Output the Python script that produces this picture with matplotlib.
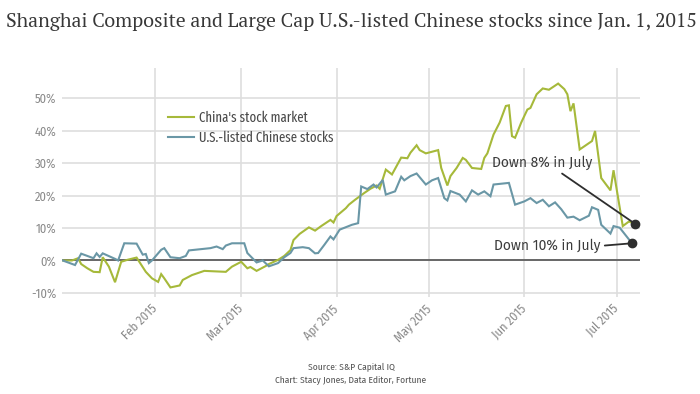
import matplotlib
matplotlib.use("Agg")
import matplotlib.pyplot as plt
import matplotlib.dates as mdates
import pandas as pd

# ---------------- data ----------------
china_dates = ["2015-01-02", "2015-01-05", "2015-01-07", "2015-01-08", "2015-01-10", "2015-01-12",
               "2015-01-14", "2015-01-15", "2015-01-17", "2015-01-19", "2015-01-21", "2015-01-23",
               "2015-01-26", "2015-01-29", "2015-01-31", "2015-02-02", "2015-02-03", "2015-02-04",
               "2015-02-06", "2015-02-09", "2015-02-10", "2015-02-13", "2015-02-17", "2015-02-24",
               "2015-02-26", "2015-03-01", "2015-03-03", "2015-03-04", "2015-03-06", "2015-03-09",
               "2015-03-10", "2015-03-13", "2015-03-15", "2015-03-17", "2015-03-18", "2015-03-20",
               "2015-03-23", "2015-03-25", "2015-03-27", "2015-03-30", "2015-03-31", "2015-04-01",
               "2015-04-04", "2015-04-05", "2015-04-07", "2015-04-10", "2015-04-12", "2015-04-14",
               "2015-04-15", "2015-04-17", "2015-04-19", "2015-04-22", "2015-04-24", "2015-04-25",
               "2015-04-27", "2015-04-28", "2015-04-30", "2015-05-04", "2015-05-05", "2015-05-07",
               "2015-05-08", "2015-05-10", "2015-05-12", "2015-05-13", "2015-05-15", "2015-05-18",
               "2015-05-19", "2015-05-20", "2015-05-22", "2015-05-24", "2015-05-26", "2015-05-27",
               "2015-05-28", "2015-05-29", "2015-05-31", "2015-06-02", "2015-06-03", "2015-06-05",
               "2015-06-07", "2015-06-09", "2015-06-12", "2015-06-14", "2015-06-15", "2015-06-16",
               "2015-06-17", "2015-06-19", "2015-06-23", "2015-06-24", "2015-06-26", "2015-06-29",
               "2015-06-30", "2015-07-03", "2015-07-05", "2015-07-07"]
china_vals = [0, 0, 0.7, -1.1, -2.4, -3.5,
              -3.6, 1.0, -1.9, -6.7, -0.4, 0.2,
              0.9, -3.5, -5.5, -6.6, -4.2, -5.5,
              -8.3, -7.7, -6.0, -4.5, -3.2, -3.5,
              -1.9, -0.4, -2.4, -2.0, -3.2, -1.7,
              -1.1, 0.2, 1.4, 3.2, 6.3, 8.2,
              10.2, 9.2, 10.6, 12.5, 11.7, 13.7,
              16.1, 17.2, 18.7, 20.8, 22.1, 23.1,
              22.1, 28.0, 26.5, 31.7, 31.5, 33.2,
              35.5, 34.0, 33.0, 34.0, 28.5, 23.1,
              26.0, 28.5, 31.6, 31.0, 28.5, 28.2,
              31.6, 33.0, 38.8, 42.5, 47.6, 47.8,
              38.3, 37.8, 42.5, 46.5, 47.0, 51.2,
              53.0, 52.6, 54.5, 52.8, 51.2, 46.0,
              48.4, 34.2, 36.8, 39.9, 25.4, 21.6,
              27.8, 10.6, 12.0, 11.3]

us_dates = ["2015-01-02", "2015-01-06", "2015-01-08", "2015-01-12", "2015-01-13", "2015-01-14",
            "2015-01-15", "2015-01-19", "2015-01-20", "2015-01-22", "2015-01-26", "2015-01-28",
            "2015-01-29", "2015-01-30", "2015-01-31", "2015-02-03", "2015-02-04", "2015-02-06",
            "2015-02-09", "2015-02-11", "2015-02-12", "2015-02-16", "2015-02-19", "2015-02-21",
            "2015-02-23", "2015-02-24", "2015-02-26", "2015-03-02", "2015-03-03", "2015-03-06",
            "2015-03-08", "2015-03-10", "2015-03-13", "2015-03-15", "2015-03-17", "2015-03-18",
            "2015-03-21", "2015-03-23", "2015-03-25", "2015-03-26", "2015-03-28", "2015-03-30",
            "2015-03-31", "2015-04-02", "2015-04-06", "2015-04-08", "2015-04-09", "2015-04-11",
            "2015-04-13", "2015-04-14", "2015-04-16", "2015-04-17", "2015-04-20", "2015-04-22",
            "2015-04-23", "2015-04-25", "2015-04-27", "2015-04-30", "2015-05-02", "2015-05-04",
            "2015-05-06", "2015-05-07", "2015-05-08", "2015-05-11", "2015-05-13", "2015-05-15",
            "2015-05-17", "2015-05-19", "2015-05-21", "2015-05-22", "2015-05-27", "2015-05-29",
            "2015-06-01", "2015-06-03", "2015-06-05", "2015-06-07", "2015-06-09", "2015-06-11",
            "2015-06-13", "2015-06-15", "2015-06-17", "2015-06-19", "2015-06-22", "2015-06-23",
            "2015-06-25", "2015-06-26", "2015-06-29", "2015-06-30", "2015-07-02", "2015-07-06"]
us_vals = [0, -1.4, 2.1, 0.7, 2.2, 1.1,
           2.2, 0.5, 0.0, 5.3, 5.2, 1.8,
           2.0, -0.8, 0, 3.3, 3.8, 1.0,
           0.7, 1.4, 3.1, 3.5, 3.8, 4.3,
           3.5, 4.6, 5.3, 5.3, 2.3, -0.6,
           0, -1.8, -0.8, 1.0, 2.3, 3.8,
           4.1, 3.8, 2.2, 2.3, 4.8, 7.4,
           6.5, 9.5, 11.0, 11.5, 22.8, 22.0,
           23.4, 22.5, 24.8, 20.3, 21.3, 25.8,
           24.7, 26.0, 26.8, 23.4, 24.7, 25.4,
           19.2, 18.5, 21.4, 20.3, 18.2, 21.6,
           20.3, 21.3, 19.8, 23.4, 23.9, 17.2,
           18.2, 19.2, 17.7, 18.7, 16.7, 17.9,
           15.8, 13.2, 13.5, 12.4, 13.8, 16.4,
           15.6, 11.0, 8.3, 10.6, 10.1, 5.3]

series_labels = ["China's stock market", "U.S.-listed Chinese stocks"]
y_ticks = [-10, 0, 10, 20, 30, 40, 50]
x_ticks = ["2015-02-01", "2015-03-01", "2015-04-01", "2015-05-01", "2015-06-01", "2015-07-01"]
title = "Shanghai Composite and Large Cap U.S.-listed Chinese stocks since Jan. 1, 2015"
note_china = "Down 8% in July"
note_us = "Down 10% in July"
footer = "Source: S&P Capital IQ\nChart: Stacy Jones, Data Editor, Fortune"

# ---------------- style ----------------
GREEN = "#a6b93a"
BLUE = "#6a97a6"
SANS_C = ["Fira Sans Condensed", "Roboto Condensed", "DejaVu Sans"]
SANS_XC = ["Fira Sans Extra Condensed", "Fira Sans Condensed", "DejaVu Sans"]
SANS = ["Fira Sans", "Open Sans", "DejaVu Sans"]
SERIF = ["PT Serif", "Noto Serif", "DejaVu Serif"]

plt.rcParams["font.family"] = SANS_C

W, H = 700, 394
fig = plt.figure(figsize=(W / 100, H / 100), dpi=100)
ax = fig.add_axes([61.8 / W, 1 - 297 / H, (640 - 61.8) / W, (297 - 68) / H])

cd = pd.to_datetime(china_dates)
ud = pd.to_datetime(us_dates)

ax.plot(cd, china_vals, color=GREEN, lw=1.5, label=series_labels[0], zorder=3, solid_joinstyle="miter")
ax.plot(ud, us_vals, color=BLUE, lw=1.5, label=series_labels[1], zorder=3, solid_joinstyle="miter")

x0 = mdates.date2num(pd.Timestamp("2015-01-01")) + 0.7
x1 = mdates.date2num(pd.Timestamp("2015-01-01")) + 188.6
ax.set_xlim(x0, x1)
ax.set_ylim(-11.25, 59.3)

ax.set_yticks(y_ticks)
ax.set_yticklabels([f"{t}%" for t in y_ticks])
xt = pd.to_datetime(x_ticks)
ax.set_xticks(xt)
ax.set_xticklabels([d.strftime("%b %Y") for d in xt], rotation=45, ha="right",
                   rotation_mode="anchor", va="center")

ax.tick_params(axis="both", length=0, labelsize=9, labelcolor="#8a8a8a")
ax.tick_params(axis="y", pad=4)
ax.tick_params(axis="x", pad=7)

ax.grid(True, color="#dedede", lw=1.2, zorder=0)
ax.set_axisbelow(True)
for s in ax.spines.values():
    s.set_visible(False)
ax.axhline(0, color="#5e5e5e", lw=1.3, zorder=2)

leg = ax.legend(loc="upper left", bbox_to_anchor=(168 / W, 1 - 111 / H),
                bbox_transform=fig.transFigure, frameon=False,
                prop={"family": SANS_XC, "size": 10},
                handlelength=1.9, handletextpad=0.35, labelspacing=0.4,
                borderpad=0, borderaxespad=0)
for t in leg.get_texts():
    t.set_color("#4a4a4a")

# end dots + annotations
ax.plot([cd[-1]], [china_vals[-1]], "o", color="#2e2e2e", ms=6, zorder=5)
ax.plot([ud[-1]], [us_vals[-1]], "o", color="#2e2e2e", ms=6, zorder=5)
jan1 = pd.Timestamp("2015-01-01")
ax.annotate(note_china, xy=(cd[-1], china_vals[-1]),
            xytext=(jan1 + pd.Timedelta(days=156.7), 30.1), ha="center", va="center",
            fontsize=10, color="#3c3c3c", family=SANS,
            arrowprops=dict(arrowstyle="-", color="#2e2e2e", lw=1.3,
                            shrinkA=1, shrinkB=0, relpos=(0.65, 0.0)), zorder=4)
ax.annotate(note_us, xy=(ud[-1], us_vals[-1]),
            xytext=(jan1 + pd.Timedelta(days=158.5), 4.5), ha="center", va="center",
            fontsize=10, color="#3c3c3c", family=SANS,
            arrowprops=dict(arrowstyle="-", color="#2e2e2e", lw=1.3,
                            shrinkA=1, shrinkB=0, relpos=(1.0, 0.5)), zorder=4)

# title (fit to width of reference)
tt = fig.text(351 / W, 1 - 22 / H, title, ha="center", va="center", fontsize=14,
              family=SERIF, color="#383838")
fig.canvas.draw()
w = tt.get_window_extent().width
tt.set_fontsize(14 * 692 / w)

fig.text(351 / W, 1 - 373 / H, footer, ha="center", va="center", fontsize=6.8,
         color="#555555", linespacing=1.45)

fig.savefig("out.png", dpi=100)
